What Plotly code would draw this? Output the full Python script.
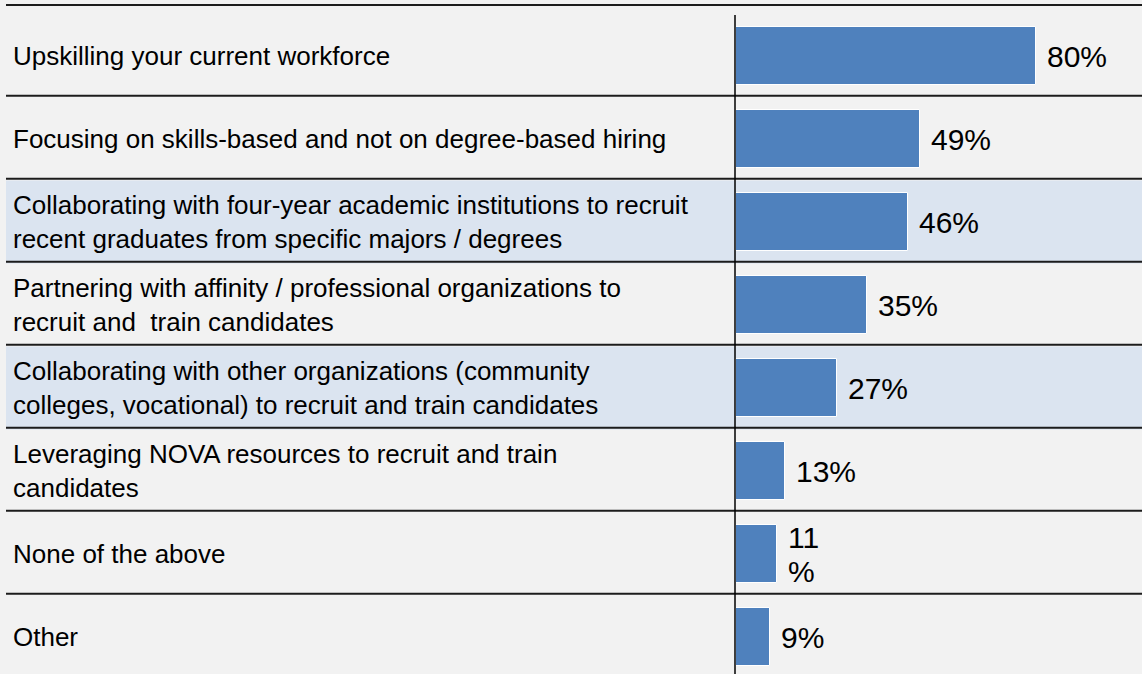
import plotly.graph_objects as go

# Survey responses: share of employers using each talent strategy
categories = [
    "Upskilling your current workforce",
    "Focusing on skills-based and not on degree-based hiring",
    "Collaborating with four-year academic institutions to recruit<br>recent graduates from specific majors / degrees",
    "Partnering with affinity / professional organizations to<br>recruit and  train candidates",
    "Collaborating with other organizations (community<br>colleges, vocational) to recruit and train candidates",
    "Leveraging NOVA resources to recruit and train<br>candidates",
    "None of the above",
    "Other",
]
values = [80, 49, 46, 35, 27, 13, 11, 9]
# rows drawn on a tinted band
shaded_rows = [2, 4]
# rows whose value label wraps the % sign onto a second line
wrapped_labels = [6]

W, H = 1142, 674
BAR_X0 = 736          # pixel where the value axis starts
PX_PER_UNIT = 3.745   # pixels per percentage point
ROW_H = 83            # row pitch in pixels
FIRST_ROW_CENTER = 56

x_min = -BAR_X0 / PX_PER_UNIT
x_max = (W - BAR_X0) / PX_PER_UNIT
y_top = -FIRST_ROW_CENTER / ROW_H
y_bottom = y_top + H / ROW_H

BG = "#f2f2f2"
BAND = "#dbe4f0"
BAR = "#4f81bd"
LINE = "#1c1c1c"
FONT = "Liberation Sans, Arial, sans-serif"

rows = list(range(len(categories)))

fig = go.Figure(
    go.Bar(
        x=values,
        y=rows,
        orientation="h",
        width=0.7,
        marker=dict(color=BAR, line=dict(color="white", width=1)),
        hoverinfo="skip",
    )
)

shapes = []
line_x0 = 6 / W
# tinted bands
for r in shaded_rows:
    shapes.append(dict(type="rect", xref="paper", yref="y", x0=line_x0, x1=1,
                       y0=r - 0.5, y1=r + 0.5, fillcolor=BAND, line_width=0,
                       layer="below"))
# top rule
shapes.append(dict(type="line", xref="paper", yref="y", x0=line_x0, x1=1,
                   y0=y_top + 5 / ROW_H, y1=y_top + 5 / ROW_H,
                   line=dict(color=LINE, width=2), layer="below"))
# row separators
for r in rows[:-1]:
    yb = r + 0.48
    shapes.append(dict(type="line", xref="paper", yref="y", x0=line_x0, x1=1,
                       y0=yb, y1=yb, line=dict(color=LINE, width=2),
                       layer="below"))
# value axis line
ax_x = -1 / PX_PER_UNIT
shapes.append(dict(type="line", xref="x", yref="y", x0=ax_x, x1=ax_x,
                   y0=y_top + 15 / ROW_H, y1=y_bottom,
                   line=dict(color="#000000", width=1.5), layer="above"))

annotations = []
for r, cat in zip(rows, categories):
    annotations.append(dict(xref="paper", yref="y", x=11 / W, y=r, text=cat,
                            xanchor="left", yanchor="middle", align="left",
                            showarrow=False,
                            font=dict(family=FONT, size=26, color="#000000")))
for r, v in zip(rows, values):
    pct_font = dict(family=FONT, size=30, color="#000000")
    if r in wrapped_labels:
        parts = [(str(v), 17), ("%", -17)]
    else:
        parts = [(f"{v}%", 0)]
    for txt, ys in parts:
        annotations.append(dict(xref="x", yref="y", x=v, y=r, text=txt,
                                xanchor="left", yanchor="middle", xshift=9,
                                yshift=ys, showarrow=False, font=pct_font))

fig.update_layout(
    width=W, height=H, autosize=False,
    margin=dict(l=0, r=0, t=0, b=0, pad=0),
    paper_bgcolor=BG, plot_bgcolor=BG,
    showlegend=False,
    xaxis=dict(range=[x_min, x_max], visible=False, fixedrange=True),
    yaxis=dict(range=[y_bottom, y_top], visible=False, fixedrange=True),
    shapes=shapes,
    annotations=annotations,
    bargap=0,
)

fig.write_html("out.html", config={"displayModeBar": False})
